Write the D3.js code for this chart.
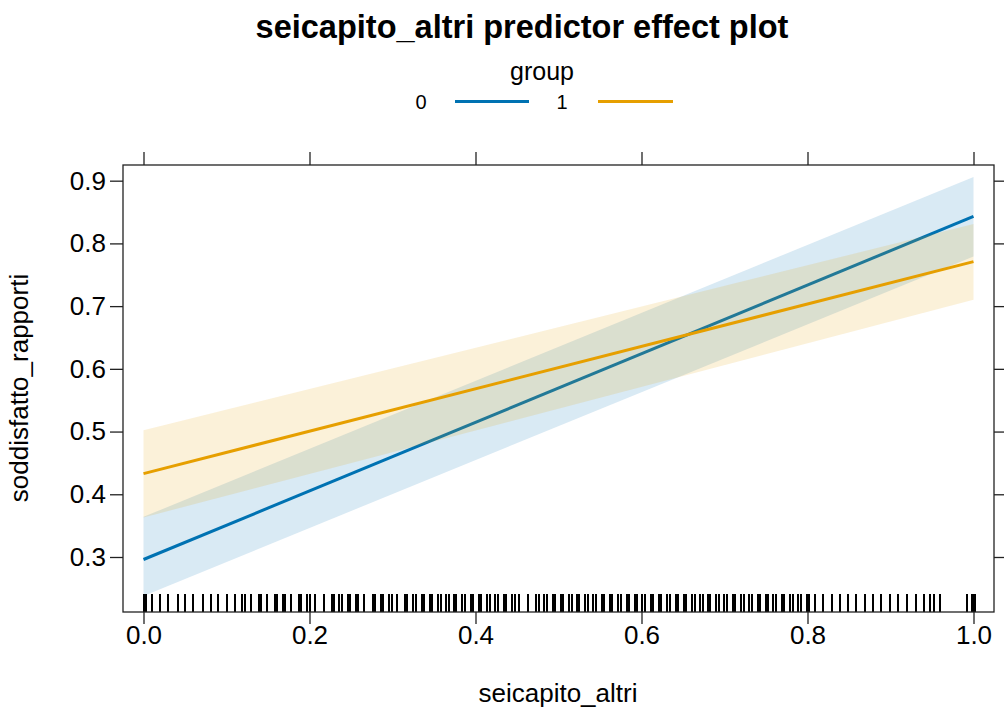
<!DOCTYPE html>
<html>
<head>
<meta charset="utf-8">
<script src="https://cdn.jsdelivr.net/npm/d3@7"></script>
<style>
  html, body { margin: 0; padding: 0; background: #fff; }
  svg { display: block; font-family: "Liberation Sans", Arial, Helvetica, sans-serif; }
</style>
</head>
<body>
<svg id="chart" width="1004" height="709"></svg>
<script>
// ---------------- data ----------------
const titleText = "seicapito_altri predictor effect plot";
const xTitle = "seicapito_altri";
const yTitle = "soddisfatto_rapporti";
const legendTitle = "group";
const groups = ["0", "1"];
const groupColors = ["#0072B2", "#E69F00"];

const xTicks = [0.0, 0.2, 0.4, 0.6, 0.8, 1.0];
const yTicks = [0.3, 0.4, 0.5, 0.6, 0.7, 0.8, 0.9];

// effect lines (x = seicapito_altri)
const effectX = [0, 1];
const fit0 = [0.296, 0.843];
const lower0 = [0.238, 0.779];
const upper0 = [0.364, 0.906];
const fit1 = [0.433, 0.771];
const lower1 = [0.363, 0.710];
const upper1 = [0.502, 0.831];

// rug of observed seicapito_altri values
const rugValues = [
0.000,0.003,0.010,0.020,0.029,0.041,0.050,0.060,0.072,0.081,0.090,0.100,0.110,0.119,0.122,0.130,0.139,0.142,0.149,0.158,0.161,0.168,0.171,0.178,0.187,0.190,0.197,0.200,0.207,0.217,0.227,0.230,0.236,0.239,0.246,0.249,0.256,0.259,0.266,0.276,0.279,0.286,0.289,0.296,0.299,0.305,0.315,0.318,0.325,0.328,0.335,0.338,0.345,0.348,0.355,0.358,0.365,0.368,0.374,0.377,0.384,0.387,0.394,0.397,0.404,0.407,0.414,0.417,0.424,0.427,0.434,0.437,0.444,0.447,0.453,0.463,0.473,0.476,0.483,0.486,0.493,0.496,0.503,0.506,0.513,0.516,0.522,0.525,0.532,0.535,0.542,0.545,0.552,0.555,0.562,0.565,0.572,0.575,0.582,0.585,0.592,0.595,0.601,0.604,0.611,0.614,0.621,0.624,0.631,0.634,0.641,0.644,0.651,0.654,0.661,0.664,0.671,0.674,0.680,0.683,0.690,0.693,0.700,0.703,0.710,0.713,0.720,0.723,0.730,0.733,0.740,0.743,0.750,0.753,0.759,0.762,0.769,0.772,0.779,0.782,0.789,0.792,0.799,0.802,0.809,0.819,0.829,0.839,0.849,0.859,0.869,0.879,0.889,0.899,0.909,0.920,0.931,0.940,0.948,0.952,0.960,0.992,0.998,1.000,1.002
];

// ---------------- layout ----------------
const panel = { left: 123, top: 165, right: 994, bottom: 612 };
const svg = d3.select("#chart");

const x = d3.scaleLinear().domain([-0.0247, 1.0247]).range([panel.left, panel.right]);
const y = d3.scaleLinear().domain([0.2123, 0.925]).range([panel.bottom, panel.top]);

svg.append("defs").append("clipPath").attr("id", "pclip")
  .append("rect").attr("x", panel.left).attr("y", panel.top)
  .attr("width", panel.right - panel.left).attr("height", panel.bottom - panel.top);

const plot = svg.append("g").attr("clip-path", "url(#pclip)");

function bandData(lo, hi) { return effectX.map((d, i) => ({ x: d, lo: lo[i], hi: hi[i] })); }
function lineData(f) { return effectX.map((d, i) => ({ x: d, y: f[i] })); }

const area = d3.area().x(d => x(d.x)).y0(d => y(d.lo)).y1(d => y(d.hi));
const line = d3.line().x(d => x(d.x)).y(d => y(d.y));

const series = [
  { lo: lower0, hi: upper0, fit: fit0, color: groupColors[0] },
  { lo: lower1, hi: upper1, fit: fit1, color: groupColors[1] }
];
series.forEach(s => {
  plot.append("path").datum(bandData(s.lo, s.hi)).attr("d", area)
    .attr("fill", s.color).attr("fill-opacity", 0.15).attr("stroke", "none");
  plot.append("path").datum(lineData(s.fit)).attr("d", line)
    .attr("fill", "none").attr("stroke", s.color).attr("stroke-width", 3);
});

// rug
plot.append("g").selectAll("line").data(rugValues).join("line")
  .attr("x1", d => x(d)).attr("x2", d => x(d))
  .attr("y1", panel.bottom - 18).attr("y2", panel.bottom)
  .attr("stroke", "#000").attr("stroke-width", 2)
  .attr("shape-rendering", "crispEdges");

// panel border
svg.append("rect").attr("x", panel.left).attr("y", panel.top)
  .attr("width", panel.right - panel.left).attr("height", panel.bottom - panel.top)
  .attr("fill", "none").attr("stroke", "#222").attr("stroke-width", 1.3);

// axes
const tickFont = 26;
function styleAxis(g) {
  g.select(".domain").remove();
  g.selectAll(".tick line").attr("stroke", "#222").attr("stroke-width", 1.3);
  g.selectAll("text").attr("font-size", tickFont).attr("fill", "#000")
    .attr("font-family", "'Liberation Sans', Arial, Helvetica, sans-serif");
}
svg.append("g").attr("transform", `translate(0,${panel.bottom})`)
  .call(d3.axisBottom(x).tickValues(xTicks).tickSize(12).tickPadding(2).tickFormat(d3.format(".1f")))
  .call(styleAxis);
svg.append("g").attr("transform", `translate(0,${panel.top})`)
  .call(d3.axisTop(x).tickValues(xTicks).tickSize(13).tickFormat(""))
  .call(styleAxis);
svg.append("g").attr("transform", `translate(${panel.left},0)`)
  .call(d3.axisLeft(y).tickValues(yTicks).tickSize(13).tickPadding(4).tickFormat(d3.format(".1f")))
  .call(styleAxis);
svg.append("g").attr("transform", `translate(${panel.right},0)`)
  .call(d3.axisRight(y).tickValues(yTicks).tickSize(12).tickFormat(""))
  .call(styleAxis);

// titles
svg.append("text").attr("x", 522).attr("y", 38).attr("text-anchor", "middle")
  .attr("font-size", 32.5).attr("font-weight", "bold").text(titleText);
svg.append("text").attr("x", 558).attr("y", 702).attr("text-anchor", "middle")
  .attr("font-size", 26).text(xTitle);
svg.append("text").attr("transform", "translate(28,388) rotate(-90)").attr("text-anchor", "middle")
  .attr("font-size", 26).text(yTitle);

// legend
svg.append("text").attr("x", 542).attr("y", 80).attr("text-anchor", "middle")
  .attr("font-size", 25).text(legendTitle);
const legendItems = [
  { label: groups[0], lx: 421, x1: 455, x2: 529, color: groupColors[0] },
  { label: groups[1], lx: 562, x1: 598, x2: 673, color: groupColors[1] }
];
const lg = svg.append("g");
legendItems.forEach(it => {
  lg.append("text").attr("x", it.lx).attr("y", 109).attr("text-anchor", "middle")
    .attr("font-size", 20).text(it.label);
  lg.append("line").attr("x1", it.x1).attr("x2", it.x2).attr("y1", 101.5).attr("y2", 101.5)
    .attr("stroke", it.color).attr("stroke-width", 3);
});
</script>
</body>
</html>
